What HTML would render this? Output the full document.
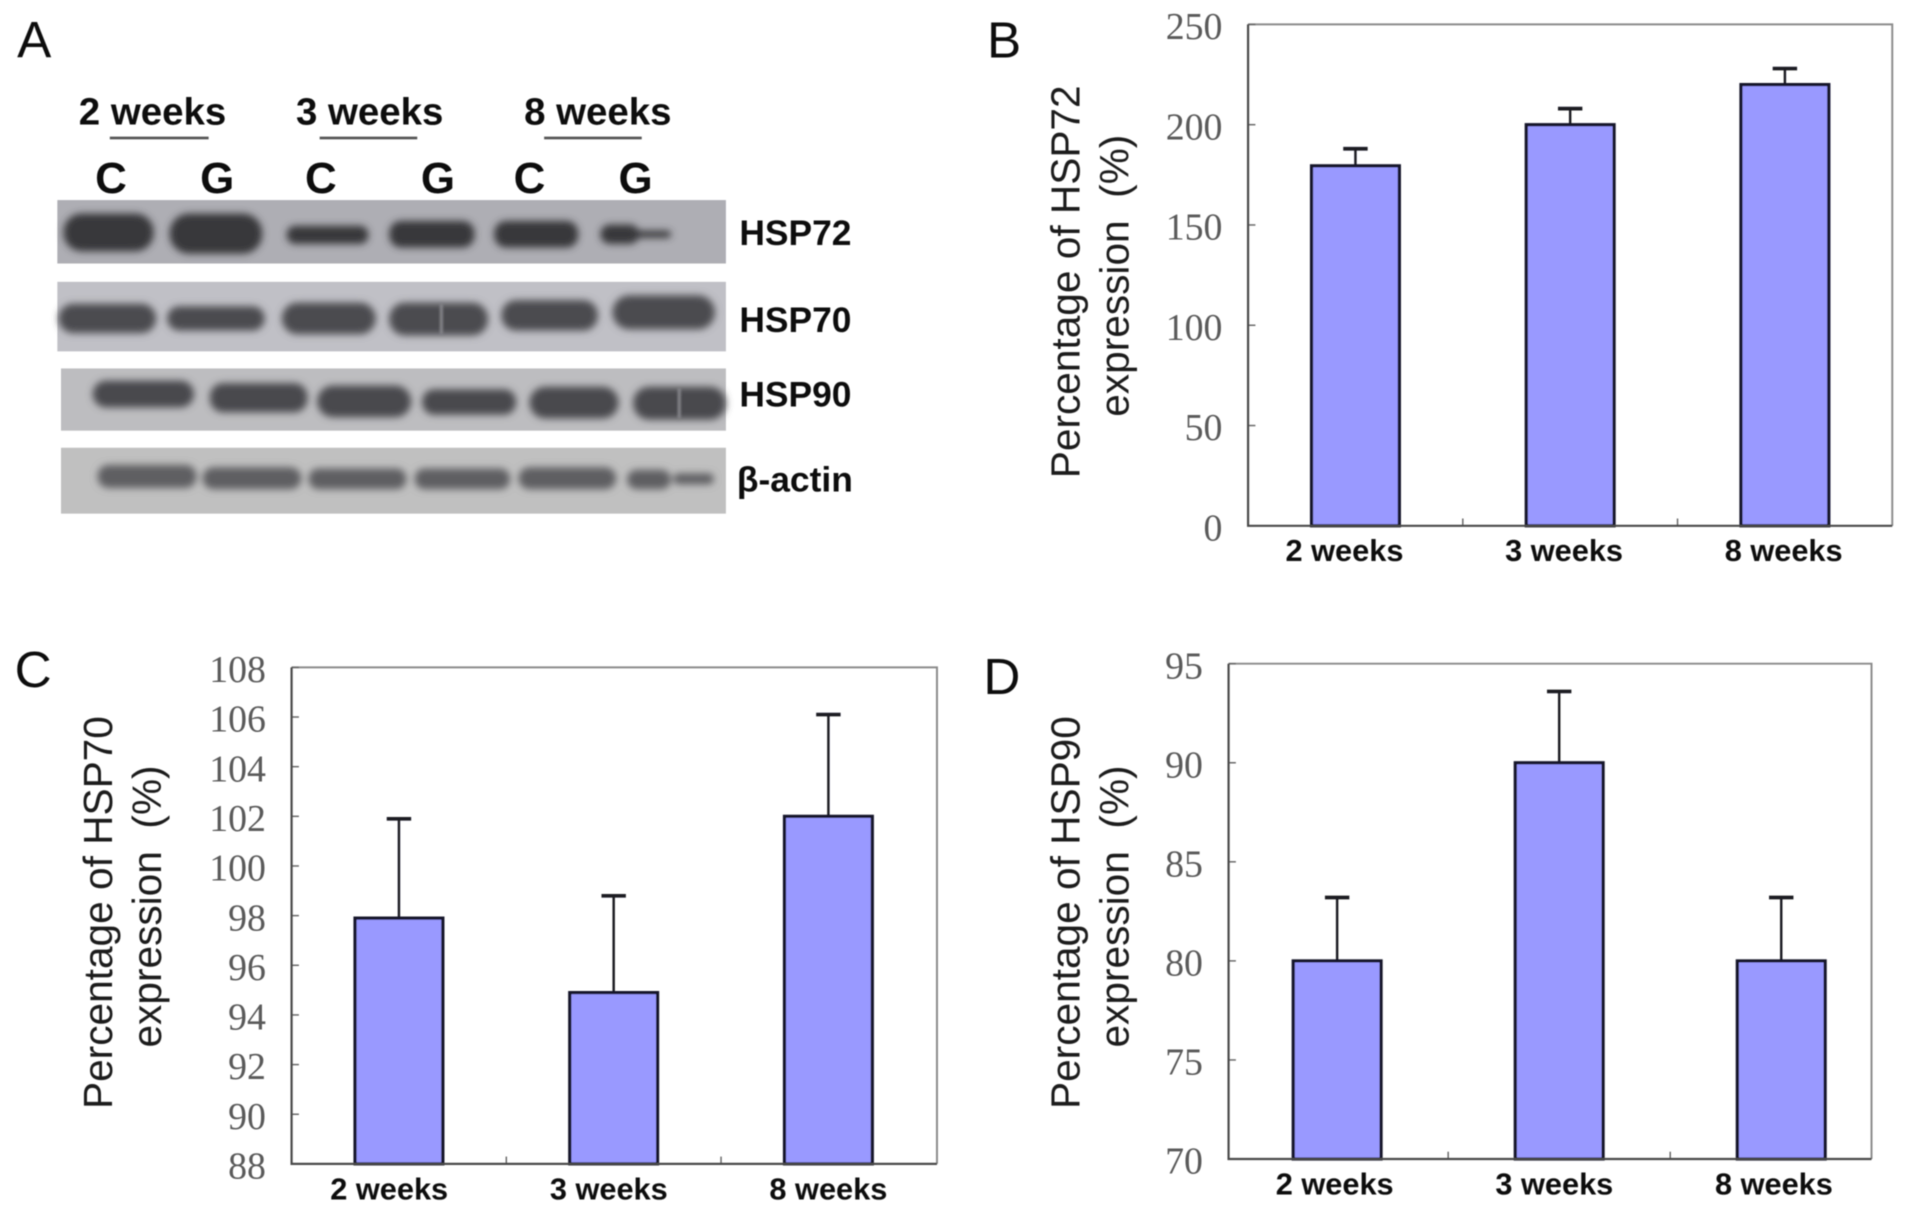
<!DOCTYPE html>
<html lang="en">
<head>
<meta charset="utf-8">
<title>HSP expression western blot and bar charts</title>
<style>
html,body{margin:0;padding:0;background:#fff;}
body{width:1913px;height:1211px;overflow:hidden;}
svg{display:block;}
text{font-family:"Liberation Sans",sans-serif;fill:#111;}
.tick{font-family:"Liberation Serif",serif;fill:#5a5a5a;font-size:31px;text-anchor:end;}
.cat{font-weight:bold;font-size:25.2px;text-anchor:middle;}
.ttl{font-size:33.3px;text-anchor:middle;fill:#1c1c1c;white-space:pre;}
.panel{font-size:42px;}
.blot-top{font-weight:bold;font-size:31.5px;text-anchor:middle;}
.lane{font-weight:bold;font-size:36px;text-anchor:middle;}
.blot-lab{font-weight:bold;font-size:29px;}
</style>
</head>
<body>
<svg id="figure" xmlns="http://www.w3.org/2000/svg" width="1913" height="1211" viewBox="0 0 1568 992.6">
<defs>
<filter id="soft" x="-2%" y="-2%" width="104%" height="104%"><feGaussianBlur stdDeviation="0.45"/></filter>
<filter id="blot" x="-20%" y="-40%" width="140%" height="180%"><feGaussianBlur stdDeviation="3"/></filter>
<filter id="seam" x="-300%" y="-20%" width="700%" height="140%"><feGaussianBlur stdDeviation="0.9"/></filter>
</defs>
<g id="root" filter="url(#soft)">
<g>
<text class="panel" x="14" y="47">A</text>
<text class="blot-top" x="125" y="102">2 weeks</text>
<text class="blot-top" x="303" y="102">3 weeks</text>
<text class="blot-top" x="490" y="102">8 weeks</text>
<rect x="90" y="112" width="81" height="2.2" fill="#555"/>
<rect x="262" y="112" width="80" height="2.2" fill="#555"/>
<rect x="446" y="112" width="80" height="2.2" fill="#555"/>
<text class="lane" x="91" y="158">C</text>
<text class="lane" x="178" y="158">G</text>
<text class="lane" x="263" y="158">C</text>
<text class="lane" x="359" y="158">G</text>
<text class="lane" x="434" y="158">C</text>
<text class="lane" x="521" y="158">G</text>

<rect x="47" y="164" width="548" height="52" fill="#aeaeb4"/>
<g fill="#38383b" filter="url(#blot)">
<rect x="52" y="175" width="74" height="31" rx="15"/><rect x="139" y="175" width="76" height="33" rx="16"/>
<rect x="235" y="185" width="67" height="15" rx="7"/><rect x="319" y="181" width="70" height="22" rx="10"/>
<rect x="405" y="181" width="69" height="22" rx="10"/><rect x="492" y="184" width="32" height="16" rx="8"/><rect x="518" y="189" width="32" height="6" rx="3"/>
</g>
<text class="blot-lab" x="606" y="201">HSP72</text>

<rect x="47" y="231" width="548" height="57" fill="#c0c0c6"/>
<g fill="#4c4c4f" filter="url(#blot)">
<rect x="48" y="249" width="80" height="24" rx="12"/><rect x="137" y="251" width="80" height="20" rx="10"/>
<rect x="231" y="248" width="77" height="26" rx="13"/><rect x="319" y="248" width="81" height="27" rx="13"/>
<rect x="411" y="246" width="79" height="25" rx="12"/><rect x="502" y="242" width="84" height="28" rx="14"/>
</g>
<rect x="360.5" y="249" width="2.5" height="25" fill="#85858a" filter="url(#seam)"/>
<text class="blot-lab" x="606" y="272">HSP70</text>

<rect x="50" y="302" width="545" height="51" fill="#bdbdc0"/>
<g fill="#4a4a4d" filter="url(#blot)">
<rect x="76" y="312" width="83" height="22" rx="11"/><rect x="172" y="314" width="80" height="24" rx="11"/>
<rect x="260" y="316" width="77" height="26" rx="13"/><rect x="346" y="319" width="77" height="21" rx="10"/>
<rect x="434" y="317" width="73" height="26" rx="13"/><rect x="519" y="317" width="76" height="27" rx="13"/>
</g>
<rect x="555.5" y="318" width="2.5" height="25" fill="#85858a" filter="url(#seam)"/>
<text class="blot-lab" x="606" y="333">HSP90</text>

<rect x="50" y="367" width="545" height="54" fill="#c0c0c0"/>
<g fill="#5e5e62" filter="url(#blot)">
<rect x="80" y="381" width="81" height="19" rx="9"/><rect x="166" y="383" width="81" height="18" rx="9"/>
<rect x="253" y="384" width="80" height="17" rx="8"/><rect x="340" y="384" width="78" height="17" rx="8"/>
<rect x="425" y="383" width="80" height="18" rx="9"/><rect x="514" y="385" width="36" height="16" rx="8"/><rect x="552" y="388" width="33" height="9" rx="4"/>
</g>
<text class="blot-lab" x="604" y="403">β-actin</text>
</g>
</g>
</svg>
<script>
const categories = ['2 weeks', '3 weeks', '8 weeks'];

const hsp72Values = [179.5, 200, 220];
const hsp72ErrorTops = [188, 208, 228];
const hsp72Ticks = ['0', '50', '100', '150', '200', '250'];

const hsp70Values = [97.9, 94.9, 102];
const hsp70ErrorTops = [101.9, 98.8, 106.1];
const hsp70Ticks = ['88', '90', '92', '94', '96', '98', '100', '102', '104', '106', '108'];

const hsp90Values = [80, 90, 80];
const hsp90ErrorTops = [83.2, 93.6, 83.2];
const hsp90Ticks = ['70', '75', '80', '85', '90', '95'];

const SVG_NS = 'http://www.w3.org/2000/svg';
const root = document.getElementById('root');

function make(tag, parent, attrs, text) {
  const node = document.createElementNS(SVG_NS, tag);
  Object.keys(attrs).forEach(function (k) { node.setAttribute(k, attrs[k]); });
  if (text !== undefined) node.textContent = text;
  parent.appendChild(node);
  return node;
}

function drawChart(cfg) {
  const yScale = function (v) {
    const lo = Number(cfg.ticks[0]);
    const hi = Number(cfg.ticks[cfg.ticks.length - 1]);
    return cfg.bottom - (v - lo) / (hi - lo) * (cfg.bottom - cfg.top);
  };
  const xBand = function (i) { return cfg.bandStart + cfg.bandStep * (i + 0.5); };

  const group = make('g', root, {});
  
  

  const letter = make('text', group, { class: 'panel', x: cfg.letterX, y: cfg.letterY }, cfg.letter);
  
  

  const frame = make('path', group, {
    d: 'M' + cfg.left + ' ' + cfg.top + 'H' + cfg.right + 'V' + cfg.bottom,
    fill: 'none', stroke: '#8a8a8a', 'stroke-width': 1.6
  });
  
  

  cfg.ticks.forEach(function (label) {
    const y = yScale(Number(label));
    const mark = make('line', group, { x1: cfg.left, x2: cfg.left + 6, y1: y, y2: y, stroke: '#666', 'stroke-width': 1.2 });
    
    
    const tickText = make('text', group, { class: 'tick', x: cfg.left - 21, y: y + 12 }, label);
    
    
  });

  for (let i = 1; i < categories.length; i++) {
    const tx = cfg.bandStart + cfg.bandStep * i;
    const xTick = make('line', group, { x1: tx, x2: tx, y1: cfg.bottom, y2: cfg.bottom - 6, stroke: '#666', 'stroke-width': 1.2 });
    
    
  }

  categories.forEach(function (name, i) {
    const cx = xBand(i);
    const yv = yScale(cfg.values[i]);
    const ye = yScale(cfg.errorTops[i]);
    const stem = make('line', group, { x1: cx, x2: cx, y1: yv, y2: ye, stroke: '#1a1a22', 'stroke-width': 2 });
    
    
    const cap = make('line', group, { x1: cx - 10, x2: cx + 10, y1: ye, y2: ye, stroke: '#1a1a22', 'stroke-width': 3 });
    
    
    const bar = make('rect', group, {
      x: cx - cfg.barWidth / 2, y: yv, width: cfg.barWidth, height: cfg.bottom - yv,
      fill: '#9999ff', stroke: '#14142a', 'stroke-width': 2.6
    });
    
    
    const catText = make('text', group, { class: 'cat', x: cfg.labelStart + cfg.labelStep * i, y: cfg.bottom + 29 }, name);
    
    
  });

  const axes = make('path', group, {
    d: 'M' + cfg.left + ' ' + cfg.top + 'V' + cfg.bottom + 'H' + cfg.right,
    fill: 'none', stroke: '#4a4a4a', 'stroke-width': 1.8
  });
  
  

  const line1 = make('text', group, {
    class: 'ttl', transform: 'translate(' + cfg.titleX + ' ' + cfg.titleY1 + ') rotate(-90)'
  }, cfg.title);
  
  
  const line2 = make('text', group, {
    class: 'ttl', transform: 'translate(' + (cfg.titleX + 40) + ' ' + cfg.titleY2 + ') rotate(-90)'
  }, 'expression\u00a0\u00a0(%)');
  
  
}

drawChart({
  id: 'hsp72', letter: 'B', letterX: 809, letterY: 47,
  values: hsp72Values, errorTops: hsp72ErrorTops, ticks: hsp72Ticks,
  left: 1023, right: 1551, top: 20, bottom: 431,
  bandStart: 1023, bandStep: 176, barWidth: 72,
  labelStart: 1102, labelStep: 180,
  title: 'Percentage of HSP72', titleX: 885, titleY1: 231, titleY2: 226
});
drawChart({
  id: 'hsp70', letter: 'C', letterX: 12, letterY: 563,
  values: hsp70Values, errorTops: hsp70ErrorTops, ticks: hsp70Ticks,
  left: 239, right: 768, top: 547, bottom: 954,
  bandStart: 239, bandStep: 176, barWidth: 72,
  labelStart: 319, labelStep: 180,
  title: 'Percentage of HSP70', titleX: 92, titleY1: 748, titleY2: 743
});
drawChart({
  id: 'hsp90', letter: 'D', letterX: 806, letterY: 569,
  values: hsp90Values, errorTops: hsp90ErrorTops, ticks: hsp90Ticks,
  left: 1007, right: 1534, top: 544, bottom: 950,
  bandStart: 1005, bandStep: 182, barWidth: 72,
  labelStart: 1094, labelStep: 180,
  title: 'Percentage of HSP90', titleX: 885, titleY1: 748, titleY2: 743
});
</script>
</body>
</html>
